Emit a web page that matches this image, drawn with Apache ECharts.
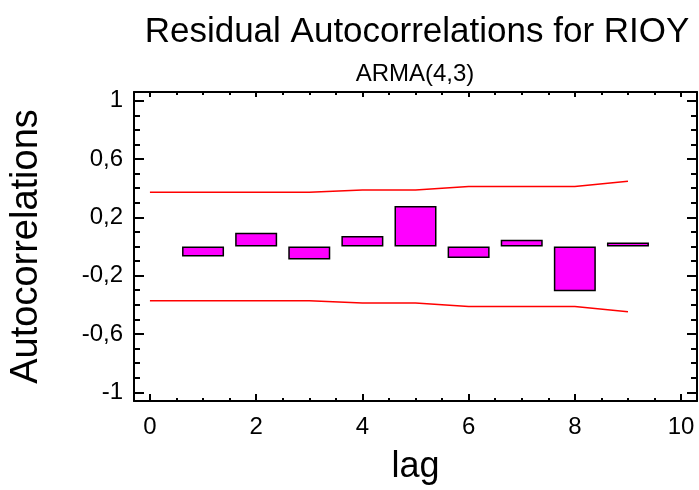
<!DOCTYPE html>
<html>
<head>
<meta charset="utf-8">
<script src="https://cdn.jsdelivr.net/npm/echarts@6/dist/echarts.min.js"></script>
<style>html,body{margin:0;padding:0;background:#fff}#c{width:699px;height:490px}</style>
</head>
<body>
<div id="c"></div>
<script>
// ---- data ----
const lags = [1, 2, 3, 4, 5, 6, 7, 8, 9];
const autocorr = [-0.068, 0.095, -0.090, 0.072, 0.278, -0.079, 0.047, -0.307, 0.027];
const limitLags = [0, 1, 2, 3, 4, 5, 6, 7, 8, 9];
const upperLimit = [0.373, 0.373, 0.373, 0.373, 0.388, 0.388, 0.411, 0.411, 0.411, 0.447];
const lowerLimit = [-0.373, -0.373, -0.373, -0.373, -0.388, -0.388, -0.411, -0.411, -0.411, -0.447];
const xTickValues = [0, 2, 4, 6, 8, 10];
const xTickLabels = ['0', '2', '4', '6', '8', '10'];
const xMinorValues = [0.5, 1, 1.5, 2.5, 3, 3.5, 4.5, 5, 5.5, 6.5, 7, 7.5, 8.5, 9, 9.5];
const yTickValues = [-1, -0.6, -0.2, 0.2, 0.6, 1];
const yTickLabels = ['-1', '-0,6', '-0,2', '0,2', '0,6', '1'];
const yMinorValues = [-0.9, -0.8, -0.7, -0.5, -0.4, -0.3, -0.1, 0, 0.1, 0.3, 0.4, 0.5, 0.7, 0.8, 0.9];

const titleText = 'Residual Autocorrelations for RIOY';
const subtitleText = 'ARMA(4,3)';
const xName = 'lag';
const yName = 'Autocorrelations';

// ---- chart ----
const FONT = 'Liberation Sans, Arial, sans-serif';
const X_MIN = -0.3, X_MAX = 10.3, Y_MIN = -1.06, Y_MAX = 1.06;
const chart = echarts.init(document.getElementById('c'), null, {renderer: 'canvas'});

function xAxisDef(pos, values, len, showLine, label) {
  return {
    type: 'value', position: pos, min: X_MIN, max: X_MAX,
    axisLine: {show: showLine, onZero: false, lineStyle: {color: '#000', width: 2}},
    axisTick: {show: true, inside: true, length: len, customValues: values, lineStyle: {color: '#000', width: 2}},
    axisLabel: label ? {show: true, customValues: xTickValues, margin: 14, color: '#000', fontSize: 24, fontFamily: FONT,
      formatter: v => xTickLabels[xTickValues.indexOf(v)]} : {show: false},
    splitLine: {show: false},
    name: label ? xName : '', nameLocation: 'middle', nameGap: 48,
    nameTextStyle: {color: '#000', fontSize: 36, fontFamily: FONT}
  };
}
function yAxisDef(pos, values, len, showLine, label) {
  return {
    type: 'value', position: pos, min: Y_MIN, max: Y_MAX,
    axisLine: {show: showLine, onZero: false, lineStyle: {color: '#000', width: 2}},
    axisTick: {show: true, inside: true, length: len, customValues: values, lineStyle: {color: '#000', width: 2}},
    axisLabel: label ? {show: true, customValues: yTickValues, margin: 11, color: '#000', fontSize: 24, fontFamily: FONT,
      formatter: v => yTickLabels[yTickValues.indexOf(v)]} : {show: false},
    splitLine: {show: false},
    name: label ? yName : '', nameLocation: 'middle', nameGap: 88, nameRotate: 90,
    nameTextStyle: {color: '#000', fontSize: 38, fontFamily: FONT}
  };
}

chart.setOption({
  animation: false,
  backgroundColor: '#fff',
  grid: {left: 132, top: 92, width: 565, height: 313, containLabel: false},
  graphic: [
    {type: 'text', x: 417, y: 32, style: {text: titleText, font: '35px ' + FONT, fill: '#000', textAlign: 'center', textVerticalAlign: 'middle'}},
    {type: 'text', x: 415, y: 74, style: {text: subtitleText, font: '24px ' + FONT, fill: '#000', textAlign: 'center', textVerticalAlign: 'middle'}}
  ],
  xAxis: [
    xAxisDef('bottom', xTickValues, 7, true, true),
    xAxisDef('bottom', xMinorValues, 3, false, false),
    xAxisDef('top', xTickValues, 5, true, false),
    xAxisDef('top', xMinorValues, 3, false, false)
  ],
  yAxis: [
    yAxisDef('left', yTickValues, 10, true, true),
    yAxisDef('left', yMinorValues, 6, false, false),
    yAxisDef('right', yTickValues, 10, true, false),
    yAxisDef('right', yMinorValues, 6, false, false)
  ],
  series: [
    {
      type: 'bar', xAxisIndex: 0, yAxisIndex: 0, barWidth: 42,
      data: lags.map((l, i) => [l, autocorr[i]]),
      itemStyle: {color: '#ff00ff', borderColor: '#000', borderWidth: 1.5}
    },
    {
      type: 'line', xAxisIndex: 0, yAxisIndex: 0, symbol: 'none',
      data: limitLags.map((l, i) => [l, upperLimit[i]]),
      lineStyle: {color: '#ff0000', width: 1.5}
    },
    {
      type: 'line', xAxisIndex: 0, yAxisIndex: 0, symbol: 'none',
      data: limitLags.map((l, i) => [l, lowerLimit[i]]),
      lineStyle: {color: '#ff0000', width: 1.5}
    }
  ]
});
</script>
</body>
</html>
